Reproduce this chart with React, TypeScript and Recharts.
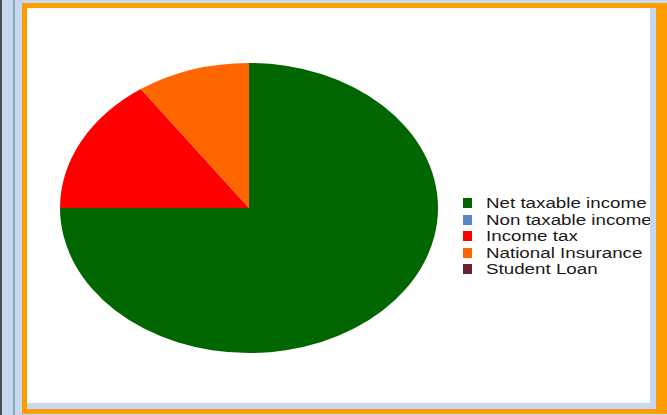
import { Legend, Pie, PieChart } from "recharts";

const categories = [
  "Net taxable income",
  "Non taxable income",
  "Income tax",
  "National Insurance",
  "Student Loan",
];
const shares = [75, 0, 15.3, 9.7, 0];
const colors = ["#006600", "#5a86c5", "#ff0000", "#ff6600", "#6a2232"];

const rows = categories.map((name, i) => ({ name, value: shares[i], fill: colors[i] }));

// the original picture is stretched sideways, so the pie is an ellipse
const Y_SQUASH = 145 / 189;
const TEXT_STRETCH = 1.34;

function EllipseSector(props: any) {
  const { cx, cy, outerRadius, startAngle, endAngle, fill } = props;
  if (Math.abs(endAngle - startAngle) < 0.01) return <g />;
  const rx = outerRadius;
  const ry = outerRadius * Y_SQUASH;
  const rad = Math.PI / 180;
  const x1 = cx + rx * Math.cos(startAngle * rad);
  const y1 = cy - ry * Math.sin(startAngle * rad);
  const x2 = cx + rx * Math.cos(endAngle * rad);
  const y2 = cy - ry * Math.sin(endAngle * rad);
  const large = Math.abs(endAngle - startAngle) > 180 ? 1 : 0;
  const sweep = startAngle > endAngle ? 1 : 0;
  return (
    <path
      d={`M${cx},${cy} L${x1},${y1} A${rx},${ry} 0 ${large} ${sweep} ${x2},${y2} Z`}
      fill={fill}
      stroke="none"
    />
  );
}

function LegendList({ payload }: any) {
  // keep data order, not the alphabetical order recharts hands over
  const items = [...(payload ?? [])].sort(
    (a: any, b: any) => categories.indexOf(a.value) - categories.indexOf(b.value)
  );
  return (
    <div style={{ fontFamily: 'Arial, "Liberation Sans", sans-serif', fontSize: 14, color: "#1a1a1a" }}>
      {items.map((entry: any) => (
        <div key={entry.value} style={{ height: 16.5, display: "flex", alignItems: "center", whiteSpace: "nowrap" }}>
          <span
            style={{
              width: 9,
              height: 10,
              background: colors[categories.indexOf(entry.value)],
              marginRight: 14,
              flex: "none",
            }}
          />
          <span style={{ display: "inline-block", transform: `scaleX(${TEXT_STRETCH})`, transformOrigin: "left center" }}>
            {entry.value}
          </span>
        </div>
      ))}
    </div>
  );
}

export default function App() {
  return (
    <div style={{ position: "absolute", left: 0, top: 0, width: 667, height: 415, background: "#c6d9f1", overflow: "hidden" }}>
      <div style={{ position: "absolute", left: 0, top: 0, width: 2, height: 415, background: "#4b4f55" }} />
      <div style={{ position: "absolute", left: 13, top: 0, width: 2, height: 415, background: "#8fa4bd" }} />
      <div
        style={{
          position: "absolute",
          left: 22,
          top: 3,
          width: 629,
          height: 395,
          border: "5px solid #ff9c00",
          borderRightWidth: 11,
          borderBottomWidth: 11,
          boxSizing: "content-box",
        }}
      />
      {/* light blue strips inside the orange frame */}
      <div style={{ position: "absolute", left: 650, top: 8, width: 6, height: 401, background: "#c6d9f1" }} />
      <div style={{ position: "absolute", left: 27, top: 403, width: 629, height: 6, background: "#c6d9f1" }} />
      <div style={{ position: "absolute", left: 27, top: 8, width: 623, height: 395, background: "#fff", overflow: "hidden" }}>
        <PieChart width={623} height={395} margin={{ top: 0, right: 0, bottom: 0, left: 0 }}>
          <Pie
            data={rows}
            dataKey="value"
            nameKey="name"
            cx={222}
            cy={200}
            outerRadius={189}
            startAngle={90}
            endAngle={-270}
            shape={EllipseSector}
            inactiveShape={EllipseSector}
            activeShape={EllipseSector}
            isAnimationActive={false}
          />
          <Legend
            layout="vertical"
            content={LegendList}
            wrapperStyle={{ position: "absolute", left: 436, top: 187, width: 260 }}
          />
        </PieChart>
      </div>
    </div>
  );
}
